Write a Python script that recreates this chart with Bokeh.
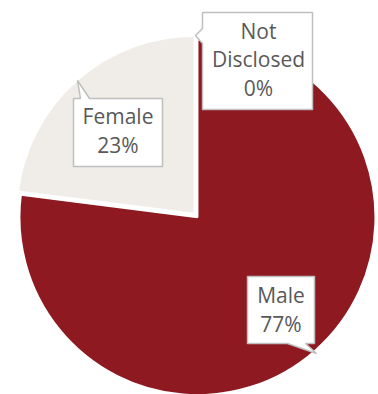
import math
from bokeh.plotting import figure
from bokeh.models import Range1d
from bokeh.embed import file_html
from bokeh.resources import INLINE
from bokeh.core.properties import value

# ---- data ----
categories = ["Male", "Female", "Not Disclosed"]
percent = [77, 23, 0]
label_lines = [["Male", "77%"], ["Female", "23%"], ["Not", "Disclosed", "0%"]]
slice_colors = ["#8E1920", "#F0EDE9", "#A5A5A5"]

# ---- layout (picture pixel coordinates) ----
W, H = 378, 394
OX, OY = 0, 0


def Y(py):
    return H - (py - OY)


p = figure(width=W, height=H, output_backend="svg", toolbar_location=None,
           x_range=Range1d(OX, OX + W), y_range=Range1d(0, H),
           min_border=0, outline_line_color=None, background_fill_color="white",
           border_fill_color="white")
p.axis.visible = False
p.grid.visible = False

base_cx, base_cy = 195.5, Y(215)
radius = 178
explode = 2.2

total = sum(percent)
start = 90.0
for cat, v, col in zip(categories, percent, slice_colors):
    sweep = 360.0 * v / total
    end = start - sweep
    if v > 0:
        mid = math.radians((start + end) / 2)
        cx = base_cx + explode * math.cos(mid)
        cy = base_cy + explode * math.sin(mid)
        p.wedge(x=[cx], y=[cy], radius=radius,
                start_angle=[math.radians(start)], end_angle=[math.radians(end)],
                direction="clock", fill_color=col, line_color="white", line_width=2)
    start = end

# callout shapes (picture px): polygons with tails
callouts = {
    "Male": [(247, 276), (314, 276), (314, 343), (305, 343), (316, 353), (287, 343), (247, 343)],
    "Female": [(73, 98), (80, 98), (77, 80), (89, 98), (162, 98), (162, 166), (73, 166)],
    "Not Disclosed": [(202, 12), (312, 12), (312, 109), (202, 109), (202, 43), (195, 35), (202, 28)],
}
# vertical centres of each text line
text_pos = {
    "Male": (280.5, [294, 323]),
    "Female": (117.5, [115, 144]),
    "Not Disclosed": (258, [30, 58.5, 87]),
}

for cat, lines in zip(categories, label_lines):
    poly = callouts[cat]
    p.patch(x=[a for a, b in poly], y=[Y(b) for a, b in poly],
            fill_color="white", line_color="#BFBFBF", line_width=1.5)
    tx, centers = text_pos[cat]
    p.text(x=[tx] * len(lines), y=[Y(b) for b in centers], text=lines,
           text_font=value("Open Sans"), text_font_size="21px",
           text_color="#595959", text_align="center", text_baseline="middle")

open("out.html", "w").write(file_html(p, INLINE))
